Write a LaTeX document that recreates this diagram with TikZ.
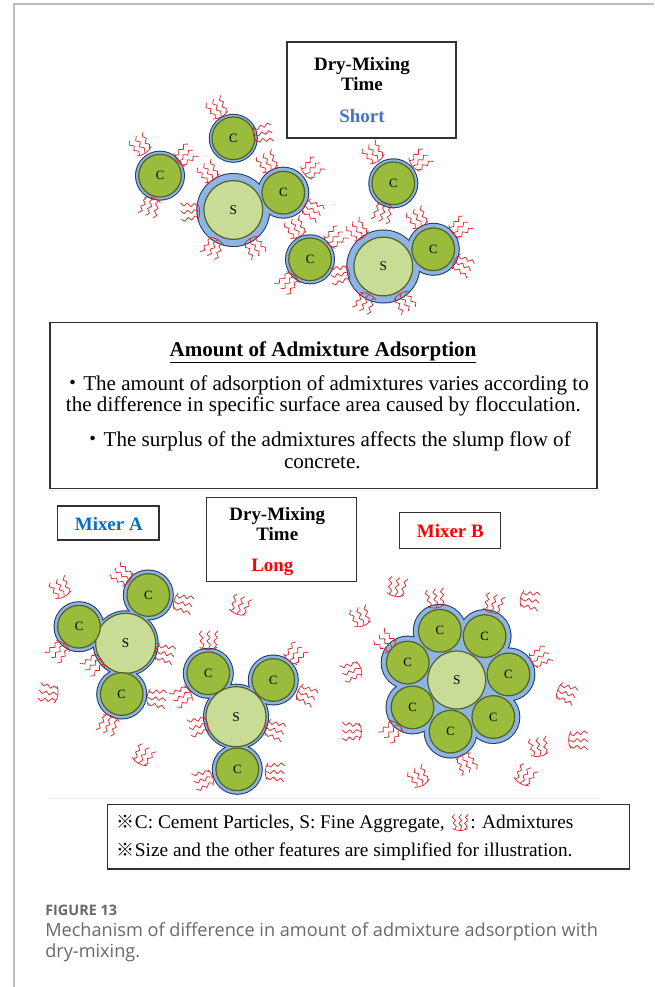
\documentclass[tikz,border=0pt]{standalone}
\usepackage{fontspec}
\usetikzlibrary{calc}
\setmainfont{Liberation Serif}
\newfontfamily\cjkfont{Noto Sans CJK JP}
\newfontfamily\capfont{Open Sans}

\definecolor{ringblue}{RGB}{141,180,226}
\definecolor{ringdark}{RGB}{31,56,100}
\definecolor{cgreen}{RGB}{155,187,60}
\definecolor{sgreen}{RGB}{200,220,150}
\definecolor{gdark}{RGB}{79,98,40}
\definecolor{admred}{RGB}{215,40,40}
\definecolor{shortblue}{RGB}{68,114,196}
\definecolor{mixablue}{RGB}{0,112,192}
\definecolor{capgray}{RGB}{105,105,105}
\definecolor{framegray}{RGB}{190,190,190}
\definecolor{seamgray}{RGB}{236,236,236}
\definecolor{boxgray}{RGB}{50,50,50}

\tikzset{
  ringline/.style={draw=ringdark, line width=1.5pt},
  ringfill/.style={fill=ringblue},
  cem/.style={circle, draw=gdark, line width=0.9pt, fill=cgreen, inner sep=0pt,
    minimum size=32pt, font=\fontsize{9.5}{10}\selectfont},
  sand/.style={circle, draw=gdark, line width=0.9pt, fill=sgreen, inner sep=0pt,
    minimum size=44pt, font=\fontsize{10}{11}\selectfont},
  frame/.style={draw=boxgray, line width=1pt},
  txt/.style={inner sep=0pt, font=\fontsize{14.5}{17}\selectfont},
  mtxt/.style={inner sep=0pt, font=\fontsize{15.8}{19}\selectfont},
  btxt/.style={inner sep=0pt, font=\fontsize{14.2}{17}\selectfont\bfseries},
  admline/.style={draw=admred, line width=0.55pt, line join=round, line cap=round},
  % one admixture molecule: a curved base with three wavy arms
  adm/.pic={
    \draw[admline] (-8.5,7.5) .. controls (-3.5,10.5) and (3.5,10.5) .. (8.5,7.5);
    \foreach \u/\v in {-6/8.2, 0/9.2, 6/8.2}
      \draw[admline] (\u,\v) -- (1.05*\u+2,4.6) -- (1.12*\u-1.5,1.2) -- (1.2*\u+1.9,-2.3)
        -- (1.28*\u-1.4,-5.8) -- (1.35*\u+1.5,-9.2);
  }
}

\begin{document}
\begin{tikzpicture}[x=0.75pt, y=-0.75pt]
\useasboundingbox[fill=white] (0,0) rectangle (654,987);

% page frame and faint seams of the panel
\draw[framegray, line width=1.1pt] (14,987) -- (14,4) -- (654,4);
\draw[seamgray, line width=0.8pt] (48,490.5) -- (600,490.5);
\draw[seamgray, line width=0.8pt] (48,798.5) -- (600,798.5);

% ---------------- short dry-mixing ----------------
\draw[frame] (287,42) rectangle (456,138);
\node[btxt, anchor=base] (sh1) at (362,70.7) {Dry-Mixing};
\node[btxt, anchor=base] (sh2) at (362,91) {Time};
\node[btxt, anchor=base, text=shortblue] (sh3) at (362,122.3) {Short};

% particle rings (stroke first, then fill, so joined rings merge)
\foreach \x/\y/\r in {233.3/138.3/23.5, 160/175.7/24, 233.3/210/36, 283.3/192.7/25,
    393.3/183.3/24, 310/259.3/24, 383.3/266.5/36, 433.3/249.3/25.5}
  \draw[ringline] (\x,\y) circle (\r);
\foreach \x/\y/\r in {233.3/138.3/23.5, 160/175.7/24, 233.3/210/36, 283.3/192.7/25,
    393.3/183.3/24, 310/259.3/24, 383.3/266.5/36, 433.3/249.3/25.5}
  \fill[ringfill] (\x,\y) circle (\r);

\node[cem] (tc1) at (233.3,138.3) {C};
\node[cem] (tc2) at (160,175.7) {C};
\node[sand] (ts1) at (233.3,210) {S};
\node[cem] (tc3) at (283.3,192.7) {C};
\node[cem] (tc4) at (393.3,183.3) {C};
\node[cem] (tc5) at (310,259.3) {C};
\node[sand] (ts2) at (383.3,266.5) {S};
\node[cem] (tc6) at (433.3,249.3) {C};

\foreach \x/\y/\a in {216.7/108.3/119, 263/133/10, 140/145/123, 185/155/40,
    150/207/-108, 208/172/123, 190/212/183, 213/248/-118, 255/247/-59,
    267/162/117, 312/168/41, 313/210/-30, 373/153/124, 420/160/40,
    383/213/-108, 295/228/116, 335/237/41, 340/275/190, 288/283/-132,
    357/230/126, 365/303/-116, 405/302/-59, 417/218/117, 460/227/39, 463/265/-28}
  \pic[rotate=\a-90] at (\x,\y) {adm};

% ---------------- summary box ----------------
\draw[frame] (50,322.3) rectangle (597,488.3);
\node[mtxt, anchor=base, font=\fontsize{15.8}{19}\selectfont\bfseries] (ttl) at (323,356)
  {\underline{Amount of Admixture Adsorption}};
\node[mtxt, anchor=base] (ln1) at (325.5,390) {{\cjkfont ・}The amount of adsorption of admixtures varies according to};
\node[mtxt, anchor=base] (ln2) at (323.4,411.7) {the difference in specific surface area caused by flocculation.};
\node[mtxt, anchor=base] (ln3) at (326.7,446) {{\cjkfont ・}The surplus of the admixtures affects the slump flow of};
\node[mtxt, anchor=base] (ln4) at (322.3,468.3) {concrete.};

% ---------------- long dry-mixing ----------------
\draw[frame] (57.7,506) rectangle (159,540);
\node[btxt, anchor=base, text=mixablue] (mxa) at (108.8,530) {Mixer A};
\draw[frame] (206.7,497.3) rectangle (356.7,581.7);
\node[btxt, anchor=base] (lg1) at (277.3,520) {Dry-Mixing};
\node[btxt, anchor=base] (lg2) at (277.3,540) {Time};
\node[btxt, anchor=base, text=red] (lg3) at (272.3,571) {Long};
\draw[frame] (399.3,512.7) rectangle (500.7,548.3);
\node[btxt, anchor=base, text=red] (mxb) at (450.3,537.3) {Mixer B};

% mixer A clusters
\foreach \x/\y/\r in {125.7/643.3/32, 148.3/595/24.5, 79/626.7/24.5, 121.7/694/24.5,
    236/716.7/32, 208.3/673.3/24.5, 273.3/680/24.5, 237.3/769.3/24.5}
  \draw[ringline] (\x,\y) circle (\r);
\foreach \x/\y/\r in {125.7/643.3/32, 148.3/595/24.5, 79/626.7/24.5, 121.7/694/24.5,
    236/716.7/32, 208.3/673.3/24.5, 273.3/680/24.5, 237.3/769.3/24.5}
  \fill[ringfill] (\x,\y) circle (\r);
\node[sand, minimum size=45pt] (as1) at (125.7,643.3) {S};
\node[cem] (ac1) at (148.3,595) {C};
\node[cem] (ac2) at (79,626.7) {C};
\node[cem] (ac3) at (121.7,694) {C};
\node[sand, minimum size=45pt] (as2) at (236,716.7) {S};
\node[cem] (ac4) at (208.3,673.3) {C};
\node[cem] (ac5) at (273.3,680) {C};
\node[cem] (ac6) at (237.3,769.3) {C};

\foreach \x/\y/\a in {60/588/116, 121.7/575/143, 183.3/603.3/-13, 58.3/651.7/-130,
    93.3/665/-140, 165/653.3/-14, 156.7/698.3/-7, 108.3/725/-113,
    208.3/640/90, 181.7/696.7/-150, 295/653.3/51, 306.7/695/-24,
    198.3/726.7/-165, 275/730/-18, 203.3/780/-162, 275/771.7/-3,
    240/605/70, 48.3/693.3/170, 143.3/755/60}
  \pic[rotate=\a-90] at (\x,\y) {adm};

% mixer B cluster
\foreach \x/\y/\r in {456.7/680/48, 439.8/630.8/26, 484.6/636.1/26, 508.4/674.4/26,
    493.3/717/26, 450.6/731.6/26, 412.5/707.4/26, 407.7/662.6/26}
  \draw[ringline] (\x,\y) circle (\r);
\foreach \x/\y/\r in {456.7/680/48, 439.8/630.8/26, 484.6/636.1/26, 508.4/674.4/26,
    493.3/717/26, 450.6/731.6/26, 412.5/707.4/26, 407.7/662.6/26}
  \fill[ringfill] (\x,\y) circle (\r);
\node[cem] (bc1) at (439.8,630.8) {C};
\node[cem] (bc2) at (484.6,636.1) {C};
\node[cem] (bc3) at (508.4,674.4) {C};
\node[cem] (bc4) at (493.3,717) {C};
\node[cem] (bc5) at (450.6,731.6) {C};
\node[cem] (bc6) at (412.5,707.4) {C};
\node[cem] (bc7) at (407.7,662.6) {C};
\node[sand, minimum size=43.5pt] (bs1) at (456.7,680) {S};

\foreach \x/\y/\a in {435/598.3/98, 493.3/603.3/73, 385/641.7/139, 540/656.7/30,
    391.7/731.7/-132, 466.7/763.3/-65,
    396.7/586.7/80, 530/600/-10, 360/616.7/110, 351.7/671.7/200, 566.7/693.3/-20,
    351.7/731.7/180, 538.3/746.7/100, 578.3/740/0, 418.3/776.7/120, 525/775/60}
  \pic[rotate=\a-90] at (\x,\y) {adm};

% ---------------- legend ----------------
\draw[frame] (107.6,804.3) rectangle (629.6,869);
\node[txt, anchor=base west] (leg1) at (116.7,828.3)
  {{\cjkfont\fontsize{13.5}{14}\selectfont ※}C: Cement Particles, S: Fine Aggregate,};
\pic[scale=0.85] at ($(leg1.base east)+(15,-6)$) {adm};
\node[txt, anchor=base west] (leg2) at ($(leg1.base east)+(25,0)$) {: Admixtures};
\node[txt, anchor=base west] (leg3) at (116.7,856.7)
  {{\cjkfont\fontsize{13.5}{14}\selectfont ※}Size and the other features are simplified for illustration.};

% ---------------- caption ----------------
\node[inner sep=0pt, anchor=base west, text=capgray,
  font=\capfont\fontsize{10.8}{12}\selectfont\bfseries] (fig) at (45,915.7) {FIGURE 13};
\node[inner sep=0pt, anchor=base west, text=capgray,
  font=\capfont\fontsize{13.6}{16}\selectfont] (cap1) at (45,936)
  {Mechanism of difference in amount of admixture adsorption with};
\node[inner sep=0pt, anchor=base west, text=capgray,
  font=\capfont\fontsize{13.6}{16}\selectfont] (cap2) at (45,957) {dry-mixing.};
\end{tikzpicture}
\end{document}
